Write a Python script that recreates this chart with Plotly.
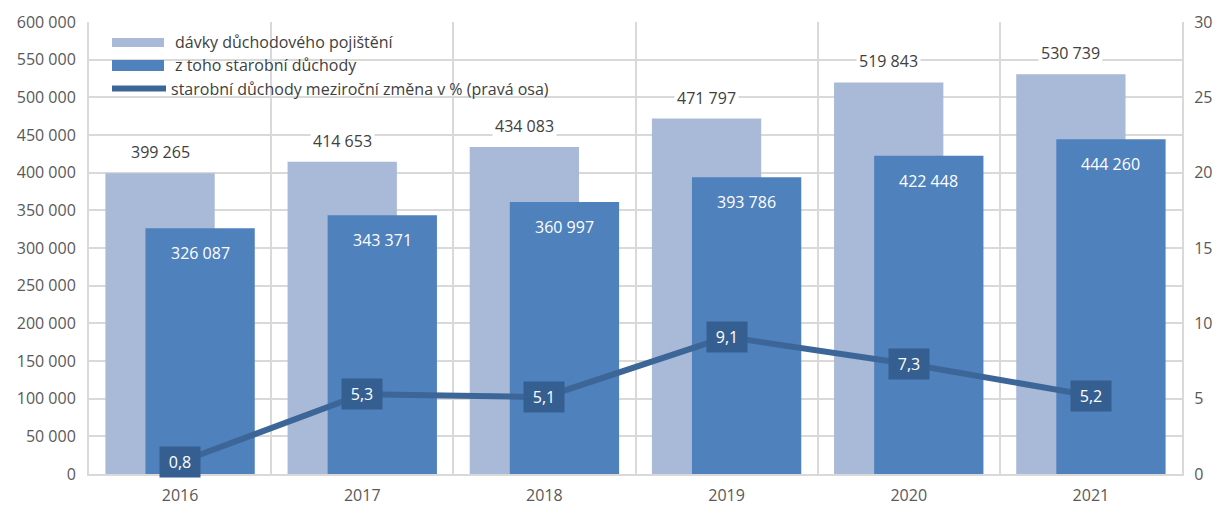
import plotly.graph_objects as go

years = ["2016", "2017", "2018", "2019", "2020", "2021"]
davky = [399265, 414653, 434083, 471797, 519843, 530739]
starobni = [326087, 343371, 360997, 393786, 422448, 444260]
zmena = [0.8, 5.3, 5.1, 9.1, 7.3, 5.2]

names = ["dávky důchodového pojištění", "z toho starobní důchody",
         "starobní důchody meziroční změna v % (pravá osa)"]

LIGHT = "#A9B9D8"
DARK = "#4F81BD"
LINE = "#3D6698"
BOX = "#365F91"
GRID = "#D9D9D9"
TXT = "#595959"
FONT = "Open Sans"

def fmt_int(v):
    return f"{v:,}".replace(",", " ")

def fmt_dec(v):
    return f"{v:.1f}".replace(".", ",")

xs = list(range(len(years)))
w = 0.6
off_l = -0.41
off_d = -0.19

fig = go.Figure()
fig.add_trace(go.Bar(x=xs, y=davky, name=names[0], marker=dict(color=LIGHT, line=dict(width=0)),
                     width=w, offset=off_l, showlegend=False))
fig.add_trace(go.Bar(x=xs, y=starobni, name=names[1], marker=dict(color=DARK, line=dict(width=0)),
                     width=w, offset=off_d, showlegend=False))
fig.add_trace(go.Scatter(x=xs, y=zmena, name=names[2], mode="lines", yaxis="y2",
                         line=dict(color=LINE, width=6), showlegend=False))

ann = []
for i, v in enumerate(davky):
    ann.append(dict(x=i + off_l + w / 2, y=v, xref="x", yref="y", text=fmt_int(v),
                    showarrow=False, yshift=21, bgcolor="white",
                    font=dict(family=FONT, size=16, color="#404040"), borderpad=2))
for i, v in enumerate(starobni):
    ann.append(dict(x=i + off_d + w / 2, y=v, xref="x", yref="y", text=fmt_int(v),
                    showarrow=False, yshift=-25,
                    font=dict(family=FONT, size=16, color="white")))
for i, v in enumerate(zmena):
    ann.append(dict(x=i, y=v, xref="x", yref="y2", text=fmt_dec(v),
                    showarrow=False, bgcolor=BOX, borderpad=4, width=32, height=22,
                    font=dict(family=FONT, size=16, color="white")))

# manual legend (page pixel geometry -> paper coords)
PX0, PX1, PY0, PY1 = 89, 1182, 22, 474
def px(x):
    return (x - PX0) / (PX1 - PX0)
def py(y):
    return (PY1 - y) / (PY1 - PY0)

shapes = [
    dict(type="rect", xref="paper", yref="paper", x0=px(98), x1=px(560), y0=py(101), y1=py(29),
         fillcolor="white", line=dict(width=0), layer="between"),
    dict(type="rect", xref="paper", yref="paper", x0=px(112), x1=px(164), y0=py(47), y1=py(38),
         fillcolor=LIGHT, line=dict(width=0), layer="above"),
    dict(type="rect", xref="paper", yref="paper", x0=px(112), x1=px(164), y0=py(71), y1=py(60),
         fillcolor=DARK, line=dict(width=0), layer="above"),
    dict(type="line", xref="paper", yref="paper", x0=px(112), x1=px(166), y0=py(88.5), y1=py(88.5),
         line=dict(color=LINE, width=6), layer="above"),
]
for name, xx, yy in [(names[0], 173, 42), (names[1], 173, 65), (names[2], 169, 88.5)]:
    ann.append(dict(x=px(xx), y=py(yy), xref="paper", yref="paper", text=name, showarrow=False,
                    xanchor="left", yanchor="middle",
                    font=dict(family=FONT, size=16, color="#404040")))

fig.update_layout(
    width=1213, height=498,
    margin=dict(l=81, r=39, t=14, b=32, autoexpand=False),
    paper_bgcolor="white", plot_bgcolor="white",
    barmode="overlay",
    separators=", ",
    font=dict(family=FONT, size=16, color=TXT),
    showlegend=False,
    xaxis=dict(range=[-0.5, 5.5], tickmode="array", tickvals=xs, ticktext=years,
               showgrid=False, showline=True, linecolor=GRID, linewidth=2, ticks="", zeroline=False,
               tickfont=dict(size=16, color=TXT), ticklabelstandoff=6,
               minor=dict(tick0=0.5, dtick=1, showgrid=True, gridcolor=GRID, gridwidth=2, ticks="")),
    yaxis=dict(range=[0, 600000], dtick=50000, tickformat=",d", showgrid=True, gridcolor=GRID,
               gridwidth=2, showline=True, linecolor=GRID, linewidth=2, zeroline=False, ticks="",
               tickfont=dict(size=16, color=TXT), ticklabelstandoff=8),
    yaxis2=dict(range=[0, 30], dtick=5, overlaying="y", side="right", showgrid=False,
                showline=True, linecolor=GRID, linewidth=2, zeroline=False, ticks="",
                tickfont=dict(size=16, color=TXT), ticklabelstandoff=7),
    annotations=ann,
    shapes=shapes,
)

fig.write_html("out.html")
